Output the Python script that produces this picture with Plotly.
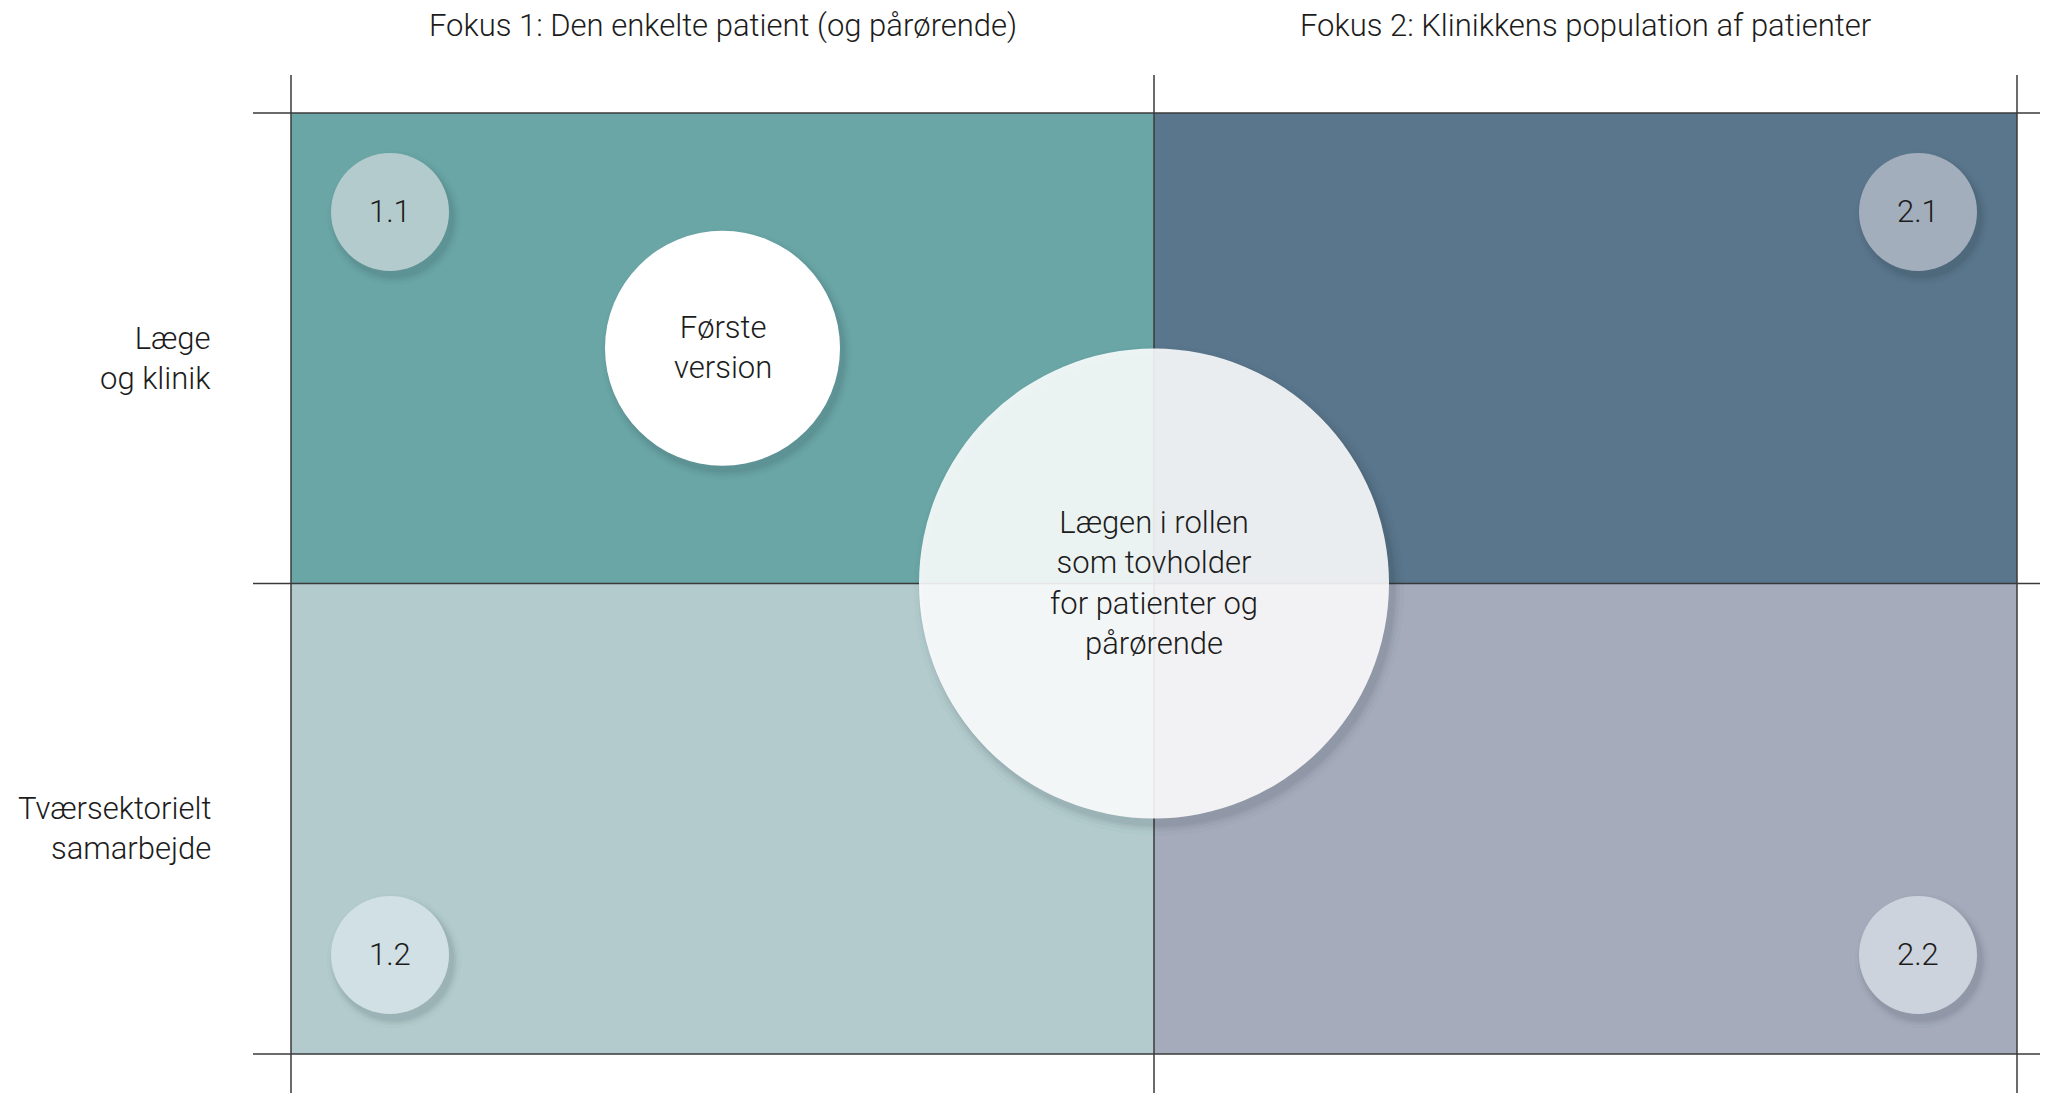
import plotly.graph_objects as go

# ---- data ----
column_labels = ["Fokus 1: Den enkelte patient (og pårørende)",
                 "Fokus 2: Klinikkens population af patienter"]
row_labels = ["Læge<br>og klinik", "Tværsektorielt<br>samarbejde"]
quadrant_ids = ["1.1", "2.1", "1.2", "2.2"]
quadrant_cols = [0, 1, 0, 1]
quadrant_rows = [1, 1, 0, 0]          # 1 = top row, 0 = bottom row
quadrant_colors = ["#6BA6A7", "#5A768C", "#B3CBCD", "#A5ABBB"]
bubble_colors = ["#B3CBCD", "#A3AEBC", "#D0E0E4", "#CDD3DD"]
first_label = "Første<br>version"
center_label = "Lægen i rollen<br>som tovholder<br>for patienter og<br>pårørende"

# ---- geometry (pixel mapping; page body adds an 8px offset) ----
OFF = 8
W, H = 2048, 1093
GX0, GX1 = 291 - OFF, 2017 - OFF      # grid left/right px
GY0, GY1 = 113 - OFF, 1054 - OFF      # grid top/bottom px
ux = (GX1 - GX0) / 2.0
uy = (GY1 - GY0) / 2.0
xr = [-GX0 / ux, 2 + (W - GX1) / ux]
yr = [-(H - GY1) / uy, 2 + GY0 / uy]

def dx(px):
    return px / ux

def dy(px):
    return px / uy

FONT = "Roboto"
FS = 31
TXT = "#1c1c1c"
LINE = "#3a3a3a"

fig = go.Figure()
shapes = []
for c, r, col in zip(quadrant_cols, quadrant_rows, quadrant_colors):
    shapes.append(dict(type="rect", xref="x", yref="y", x0=c, x1=c + 1, y0=r, y1=r + 1,
                       fillcolor=col, line=dict(width=0), layer="below"))
for gx in [0, 1, 2]:
    shapes.append(dict(type="line", xref="x", yref="y", x0=gx, x1=gx,
                       y0=yr[0], y1=2 + dy(38), line=dict(color=LINE, width=1.5), layer="below"))
for gy in [0, 1, 2]:
    shapes.append(dict(type="line", xref="x", yref="y", x0=-dx(38), x1=xr[1],
                       y0=gy, y1=gy, line=dict(color=LINE, width=1.5), layer="below"))
fig.update_layout(shapes=shapes)

annotations = []

def label(x, y, text, shift=1):
    annotations.append(dict(x=x, y=y, xref="x", yref="y", text=text, showarrow=False,
                            xanchor="center", yanchor="middle", align="center", yshift=shift,
                            font=dict(family=FONT, size=FS, color=TXT, weight=300)))

def bubble(xs, ys, diam, color, opacity=1.0, off=(4, 6), grows=((2, 0.05), (6, 0.04), (10, 0.03), (16, 0.02))):
    for grow, a in grows:
        fig.add_trace(go.Scatter(
            x=[x + dx(off[0]) for x in xs], y=[y - dy(off[1]) for y in ys], mode="markers",
            marker=dict(size=diam + grow, color="rgba(20,30,40,%g)" % a, line=dict(width=0)),
            hoverinfo="skip", showlegend=False))
    fig.add_trace(go.Scatter(
        x=xs, y=ys, mode="markers",
        marker=dict(size=diam, color=color, opacity=opacity, line=dict(width=0)),
        hoverinfo="skip", showlegend=False))

inset_x, inset_y = dx(99), dy(99)
for c, r, col, t in zip(quadrant_cols, quadrant_rows, bubble_colors, quadrant_ids):
    x = c + inset_x if c == 0 else c + 1 - inset_x
    y = r + 1 - inset_y if r == 1 else r + inset_y
    bubble([x], [y], 118, col)
    label(x, y, t)

bubble([0.5], [1.5], 235, "#FFFFFF")
label(0.5, 1.5, first_label)

bubble([1], [1], 470, "rgba(255,255,255,0.88)", off=(5, 7),
       grows=((2, 0.05), (6, 0.04), (12, 0.03), (20, 0.02)))
label(1, 1, center_label)

for i, lab in enumerate(column_labels):
    annotations.append(dict(x=i + 0.5, y=2 + dy(113 - 25), xref="x", yref="y", text=lab,
                            showarrow=False, xanchor="center", yanchor="middle",
                            font=dict(family=FONT, size=FS, color=TXT, weight=300)))
for i, lab in enumerate(row_labels):
    annotations.append(dict(x=-dx(291 - 213), y=1.5 - i, xref="x", yref="y", text=lab,
                            showarrow=False, xanchor="right", yanchor="middle", align="right",
                            yshift=-10,
                            font=dict(family=FONT, size=FS, color=TXT, weight=300)))

fig.update_layout(
    width=W, height=H, margin=dict(l=0, r=0, t=0, b=0),
    paper_bgcolor="white", plot_bgcolor="white",
    xaxis=dict(range=xr, visible=False, fixedrange=True),
    yaxis=dict(range=yr, visible=False, fixedrange=True),
    annotations=annotations, showlegend=False,
)

fig.write_html("out.html")
